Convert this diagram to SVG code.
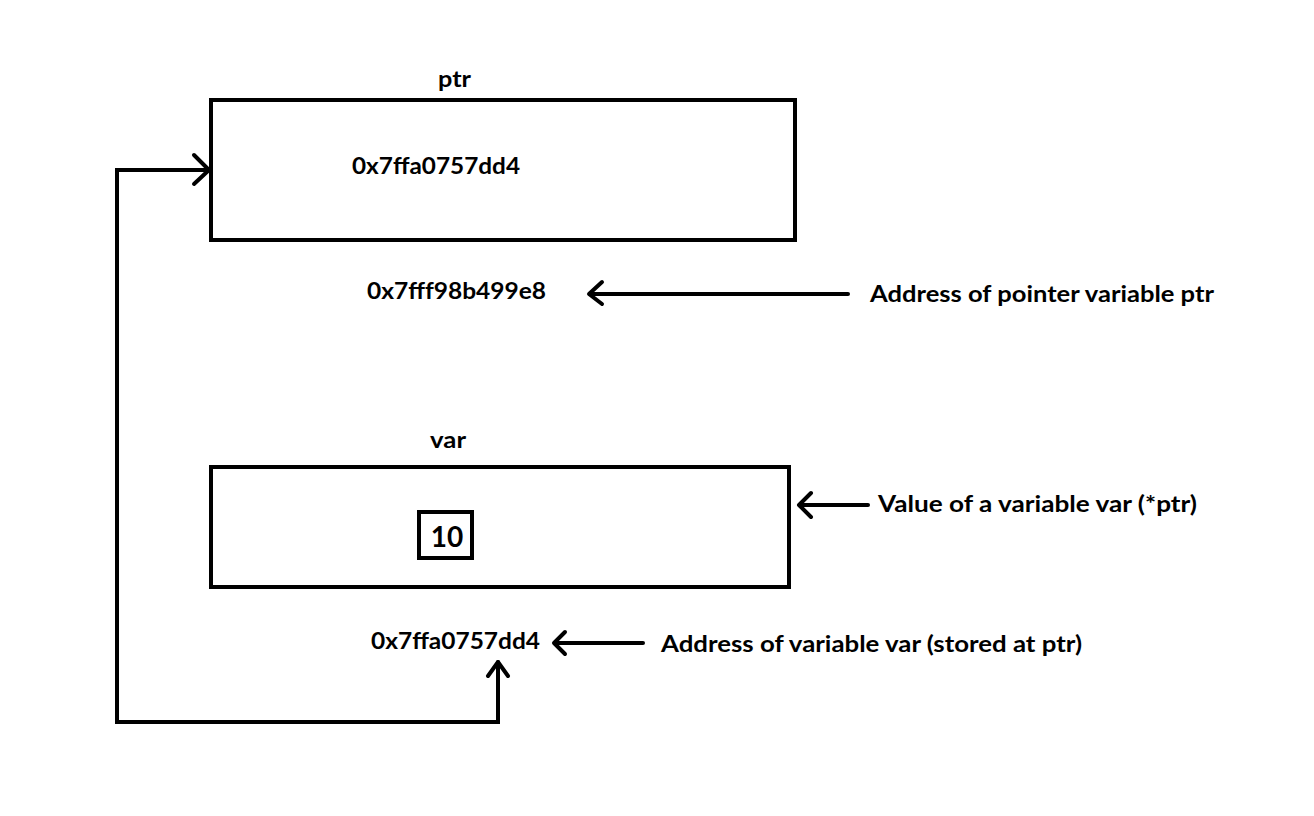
<svg xmlns="http://www.w3.org/2000/svg" width="1314" height="816" viewBox="0 0 1314 816">
<style>
.box{fill:none;stroke:#000;stroke-width:4}
.ln{fill:none;stroke:#000;stroke-width:4;stroke-linecap:round;stroke-linejoin:miter}
.hd{fill:none;stroke:#000;stroke-width:4;stroke-linecap:round;stroke-linejoin:round}
text{font-family:Lato,"Liberation Sans",sans-serif;font-weight:bold;font-size:22px;fill:#000}
</style>
<rect width="1314" height="816" fill="#fff"/>
<g id="ptr">
<text x="438" y="87" textLength="33" lengthAdjust="spacingAndGlyphs">ptr</text>
<rect class="box" x="211" y="100" width="584" height="140"/>
<text x="352" y="174" textLength="168" lengthAdjust="spacingAndGlyphs">0x7ffa0757dd4</text>
</g>
<g id="ptr-addr">
<text x="367" y="299" textLength="179" lengthAdjust="spacingAndGlyphs">0x7fff98b499e8</text>
</g>
<g id="ptr-addr-label">
<text x="870" y="302" textLength="344" lengthAdjust="spacingAndGlyphs">Address of pointer variable ptr</text>
</g>
<g id="var">
<text x="430" y="448" textLength="36" lengthAdjust="spacingAndGlyphs">var</text>
<rect class="box" x="211" y="467" width="578" height="120"/>
<rect class="box" x="419" y="512" width="53" height="46"/>
<text x="447" y="547" text-anchor="middle" style="font-size:28px">10</text>
</g>
<g id="var-value-label">
<text x="878" y="512" textLength="319" lengthAdjust="spacingAndGlyphs">Value of a variable var (*ptr)</text>
</g>
<g id="var-addr">
<text x="371" y="649" textLength="169" lengthAdjust="spacingAndGlyphs">0x7ffa0757dd4</text>
</g>
<g id="var-addr-label">
<text x="661" y="652" textLength="421" lengthAdjust="spacingAndGlyphs">Address of variable var (stored at ptr)</text>
</g>
<g id="connectors">
<polyline class="ln" points="498,662 498,722 117,722 117,170 209,170"/>
<polyline class="hd" points="194,155 209,170 194,184"/>
<polyline class="hd" points="488,676 498,662 508,676"/>
<line class="ln" x1="848" y1="294" x2="590" y2="294"/>
<polyline class="hd" points="602,282 589,294 602,304"/>
<line class="ln" x1="868" y1="505" x2="800" y2="505"/>
<polyline class="hd" points="811,493 799,505 811,517"/>
<line class="ln" x1="643" y1="643" x2="555" y2="643"/>
<polyline class="hd" points="565,632 554,643 565,654"/>
</g>
</svg>
